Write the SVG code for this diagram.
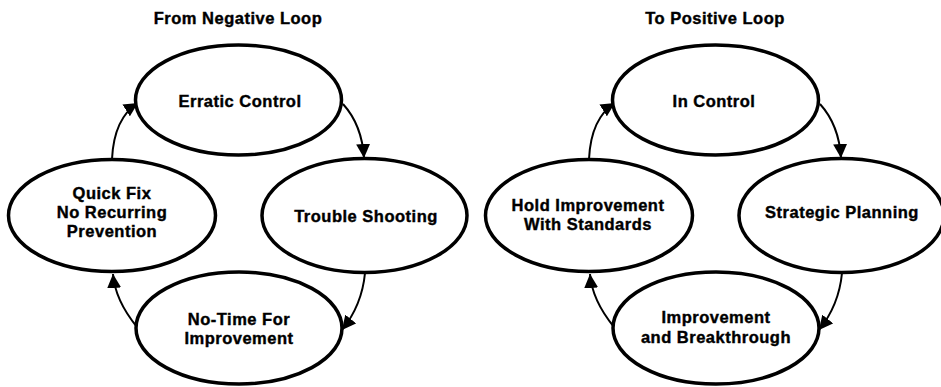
<svg xmlns="http://www.w3.org/2000/svg" width="941" height="387" viewBox="0 0 941 387">
<style>
.n{fill:#fff;stroke:#000;stroke-width:3.5}
.t{font-family:"Liberation Sans",Arial,sans-serif;font-weight:bold;font-size:16.5px;letter-spacing:0.5px;text-anchor:middle;fill:#000;stroke:#000;stroke-width:0.4}
.c{fill:none;stroke:#000;stroke-width:2}
</style>
<defs>
<marker id="ah" markerUnits="userSpaceOnUse" markerWidth="15" markerHeight="14" refX="14" refY="7" orient="auto">
<path d="M0,0 L14,7 L0,14 z" fill="#000"/>
</marker>
</defs>
<rect width="941" height="387" fill="#fff"/>
<text class="t" x="238" y="24">From Negative Loop</text>
<text class="t" x="715" y="24">To Positive Loop</text>
<g id="connectors">
<path class="c" d="M343,104 Q362,125 364,158" marker-end="url(#ah)"/>
<path class="c" d="M365,273 Q362,305 342,330" marker-end="url(#ah)"/>
<path class="c" d="M137,327 Q115,300 113,274" marker-end="url(#ah)"/>
<path class="c" d="M112,159 Q114,118 138,103" marker-end="url(#ah)"/>
<path class="c" d="M820,104 Q839,125 841,158" marker-end="url(#ah)"/>
<path class="c" d="M842,273 Q839,305 819,330" marker-end="url(#ah)"/>
<path class="c" d="M614,327 Q592,300 590,274" marker-end="url(#ah)"/>
<path class="c" d="M589,159 Q591,118 615,103" marker-end="url(#ah)"/>
</g>
<g id="erratic-control">
<ellipse class="n" cx="238.5" cy="100" rx="103" ry="55"/>
<text class="t" x="240" y="107">Erratic Control</text>
</g>
<g id="trouble-shooting">
<ellipse class="n" cx="364.5" cy="215.5" rx="102.5" ry="57"/>
<text class="t" x="366" y="222">Trouble Shooting</text>
</g>
<g id="no-time">
<ellipse class="n" cx="239" cy="328" rx="103" ry="56"/>
<text class="t" x="239" y="325">No-Time For</text>
<text class="t" x="239" y="344">Improvement</text>
</g>
<g id="quick-fix">
<ellipse class="n" cx="112" cy="215.5" rx="103.5" ry="56"/>
<text class="t" x="112" y="199">Quick Fix</text>
<text class="t" x="112" y="218">No Recurring</text>
<text class="t" x="112" y="237">Prevention</text>
</g>
<g id="in-control">
<ellipse class="n" cx="715.5" cy="100" rx="103" ry="55"/>
<text class="t" x="714" y="107">In Control</text>
</g>
<g id="strategic-planning">
<ellipse class="n" cx="841.5" cy="215.5" rx="102.5" ry="57"/>
<text class="t" x="842" y="218">Strategic Planning</text>
</g>
<g id="improvement-breakthrough">
<ellipse class="n" cx="716" cy="328" rx="103" ry="56"/>
<text class="t" x="716" y="323">Improvement</text>
<text class="t" x="716" y="343">and Breakthrough</text>
</g>
<g id="hold-improvement">
<ellipse class="n" cx="589" cy="215.5" rx="103.5" ry="56"/>
<text class="t" x="588" y="211">Hold Improvement</text>
<text class="t" x="588" y="230">With Standards</text>
</g>
</svg>
